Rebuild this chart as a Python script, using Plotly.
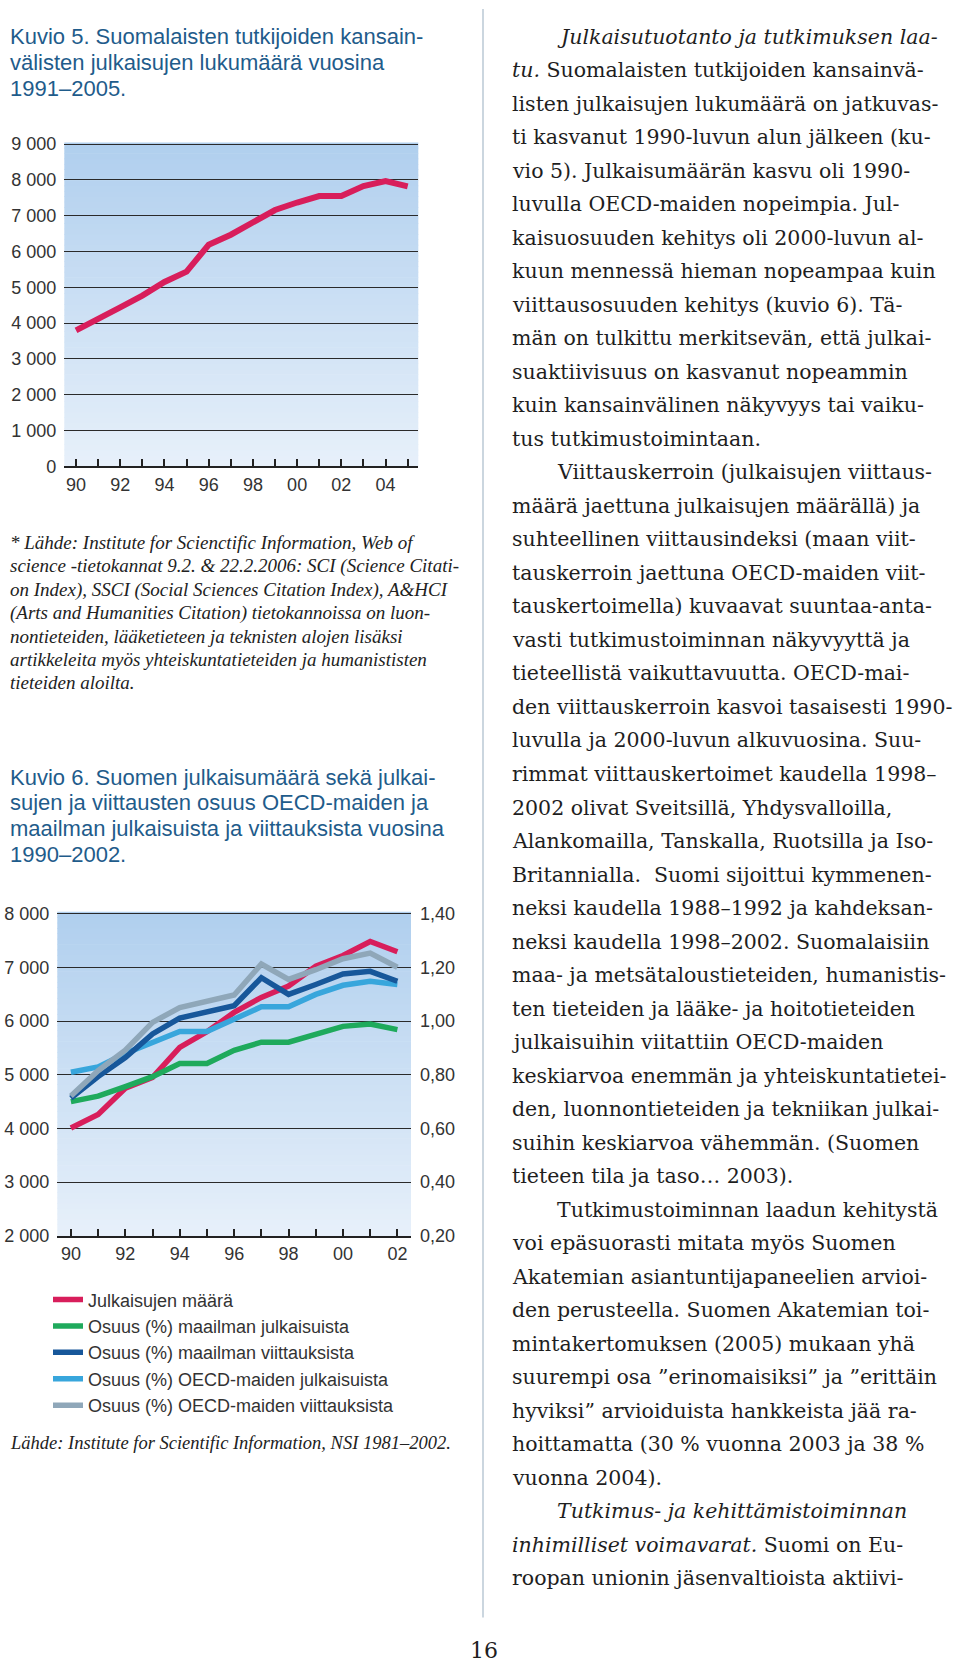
import plotly.graph_objects as go

W, H = 960, 1670

# ---------------- data ----------------
years1 = [1990, 1991, 1992, 1993, 1994, 1995, 1996, 1997, 1998, 1999, 2000, 2001, 2002, 2003, 2004, 2005]
pubs1 = [3800, 4100, 4440, 4770, 5150, 5440, 6190, 6470, 6830, 7160, 7370, 7550, 7550, 7830, 7970, 7820]
y1_ticks = [0, 1000, 2000, 3000, 4000, 5000, 6000, 7000, 8000, 9000]
y1_labels = ["0", "1 000", "2 000", "3 000", "4 000", "5 000", "6 000", "7 000", "8 000", "9 000"]
x1_labels = ["90", "", "92", "", "94", "", "96", "", "98", "", "00", "", "02", "", "04", ""]

years2 = [1990, 1991, 1992, 1993, 1994, 1995, 1996, 1997, 1998, 1999, 2000, 2001, 2002]
pubs2 = [4010, 4260, 4750, 4950, 5510, 5800, 6160, 6440, 6650, 7020, 7220, 7480, 7290]
world_pub = [0.70, 0.72, 0.756, 0.793, 0.842, 0.842, 0.891, 0.921, 0.921, 0.948, 0.980, 0.989, 0.968]
world_cit = [0.713, 0.793, 0.864, 0.952, 1.011, 1.032, 1.057, 1.161, 1.099, 1.136, 1.175, 1.185, 1.148]
oecd_pub = [0.809, 0.829, 0.879, 0.921, 0.961, 0.961, 1.007, 1.053, 1.053, 1.099, 1.133, 1.148, 1.136]
oecd_cit = [0.721, 0.815, 0.891, 0.995, 1.050, 1.072, 1.097, 1.212, 1.155, 1.191, 1.232, 1.253, 1.200]
y2_ticks = [2000, 3000, 4000, 5000, 6000, 7000, 8000]
y2_labels = ["2 000", "3 000", "4 000", "5 000", "6 000", "7 000", "8 000"]
y3_ticks = [0.2, 0.4, 0.6, 0.8, 1.0, 1.2, 1.4]
y3_labels = ["0,20", "0,40", "0,60", "0,80", "1,00", "1,20", "1,40"]
x2_labels = ["90", "", "92", "", "94", "", "96", "", "98", "", "00", "", "02"]

names2 = ["Julkaisujen määrä", "Osuus (%) maailman julkaisuista", "Osuus (%) maailman viittauksista",
          "Osuus (%) OECD-maiden julkaisuista", "Osuus (%) OECD-maiden viittauksista"]

title1 = ["Kuvio 5. Suomalaisten tutkijoiden kansain-", "välisten julkaisujen lukumäärä vuosina", "1991–2005."]
title2 = ["Kuvio 6. Suomen julkaisumäärä sekä julkai-", "sujen ja viittausten osuus OECD-maiden ja",
          "maailman julkaisuista ja viittauksista vuosina", "1990–2002."]
note1 = ["* Lähde: Institute for Scienctific Information, Web of",
         "science -tietokannat 9.2. &amp; 22.2.2006: SCI (Science Citati-",
         "on Index), SSCI (Social Sciences Citation Index), A&amp;HCI",
         "(Arts and Humanities Citation) tietokannoissa on luon-",
         "nontieteiden, lääketieteen ja teknisten alojen lisäksi",
         "artikkeleita myös yhteiskuntatieteiden ja humanististen",
         "tieteiden aloilta."]
source2 = "Lähde: Institute for Scientific Information, NSI 1981–2002."

body = [
    (1, "<i>Julkaisutuotanto ja tutkimuksen laa-</i>"),
    (0, "<i>tu.</i> Suomalaisten tutkijoiden kansainvä-"),
    (0, "listen julkaisujen lukumäärä on jatkuvas-"),
    (0, "ti kasvanut 1990-luvun alun jälkeen (ku-"),
    (0, "vio 5). Julkaisumäärän kasvu oli 1990-"),
    (0, "luvulla OECD-maiden nopeimpia. Jul-"),
    (0, "kaisuosuuden kehitys oli 2000-luvun al-"),
    (0, "kuun mennessä hieman nopeampaa kuin"),
    (0, "viittausosuuden kehitys (kuvio 6). Tä-"),
    (0, "män on tulkittu merkitsevän, että julkai-"),
    (0, "suaktiivisuus on kasvanut nopeammin"),
    (0, "kuin kansainvälinen näkyvyys tai vaiku-"),
    (0, "tus tutkimustoimintaan."),
    (1, "Viittauskerroin (julkaisujen viittaus-"),
    (0, "määrä jaettuna julkaisujen määrällä) ja"),
    (0, "suhteellinen viittausindeksi (maan viit-"),
    (0, "tauskerroin jaettuna OECD-maiden viit-"),
    (0, "tauskertoimella) kuvaavat suuntaa-anta-"),
    (0, "vasti tutkimustoiminnan näkyvyyttä ja"),
    (0, "tieteellistä vaikuttavuutta. OECD-mai-"),
    (0, "den viittauskerroin kasvoi tasaisesti 1990-"),
    (0, "luvulla ja 2000-luvun alkuvuosina. Suu-"),
    (0, "rimmat viittauskertoimet kaudella 1998–"),
    (0, "2002 olivat Sveitsillä, Yhdysvalloilla,"),
    (0, "Alankomailla, Tanskalla, Ruotsilla ja Iso-"),
    (0, "Britannialla.  Suomi sijoittui kymmenen-"),
    (0, "neksi kaudella 1988–1992 ja kahdeksan-"),
    (0, "neksi kaudella 1998–2002. Suomalaisiin"),
    (0, "maa- ja metsätaloustieteiden, humanistis-"),
    (0, "ten tieteiden ja lääke- ja hoitotieteiden"),
    (0, "julkaisuihin viitattiin OECD-maiden"),
    (0, "keskiarvoa enemmän ja yhteiskuntatietei-"),
    (0, "den, luonnontieteiden ja tekniikan julkai-"),
    (0, "suihin keskiarvoa vähemmän. (Suomen"),
    (0, "tieteen tila ja taso… 2003)."),
    (1, "Tutkimustoiminnan laadun kehitystä"),
    (0, "voi epäsuorasti mitata myös Suomen"),
    (0, "Akatemian asiantuntijapaneelien arvioi-"),
    (0, "den perusteella. Suomen Akatemian toi-"),
    (0, "mintakertomuksen (2005) mukaan yhä"),
    (0, "suurempi osa ”erinomaisiksi” ja ”erittäin"),
    (0, "hyviksi” arvioiduista hankkeista jää ra-"),
    (0, "hoittamatta (30 % vuonna 2003 ja 38 %"),
    (0, "vuonna 2004)."),
    (1, "<i>Tutkimus- ja kehittämistoiminnan</i>"),
    (0, "<i>inhimilliset voimavarat.</i> Suomi on Eu-"),
    (0, "roopan unionin jäsenvaltioista aktiivi-"),
]

# ---------------- styles ----------------
RED = "#d81e5b"
GREEN = "#1faa5c"
DBLUE = "#17579a"
LBLUE = "#38a6dc"
GRAY = "#8fa7b9"
TITLE_C = "#1f5c8b"
BG_TOP = (176, 207, 238)
BG_BOT = (231, 240, 250)
SANS = "Liberation Sans, Arial, sans-serif"
SERIF_B = "DejaVu Serif, serif"
SERIF_C = "Liberation Serif, Times New Roman, serif"


def px(x):
    return x / W


def py(y):
    return 1 - y / H


def gradient_bands(xref, yref, n=60):
    out = []
    for k in range(n):
        t = (k + 0.5) / n
        c = tuple(round(BG_BOT[j] + (BG_TOP[j] - BG_BOT[j]) * t) for j in range(3))
        out.append(dict(type="rect", xref=xref, yref=yref, x0=0, x1=1,
                        y0=k / n, y1=(k + 1) / n + 0.002,
                        fillcolor="rgb(%d,%d,%d)" % c, line=dict(width=0), layer="below"))
    return out


fig = go.Figure()

# chart 1 (range top padded slightly so the 9 000 gridline is fully visible)
x1_range = [1989.47, 2005.48]
y1_range = [0, 9030]
fig.add_trace(go.Scatter(x=years1, y=pubs1, mode="lines",
                         line=dict(color=RED, width=6), showlegend=False,
                         xaxis="x", yaxis="y"))

# chart 2
x2_range = [1989.5, 2002.5]
y2_range = [2000, 8020]
y3_range = [0.2, 1.404]
series = [
    (names2[1], world_pub, GREEN, "y3", 2),
    (names2[3], oecd_pub, LBLUE, "y3", 4),
    (names2[2], world_cit, DBLUE, "y3", 3),
    (names2[4], oecd_cit, GRAY, "y3", 5),
    (names2[0], pubs2, RED, "y2", 1),
]
for name, vals, col, yax, rank in series:
    fig.add_trace(go.Scatter(x=years2, y=vals, mode="lines", name=name,
                             line=dict(color=col, width=5.5),
                             xaxis="x2", yaxis=yax, legendrank=rank))

tickfont = dict(family=SANS, size=18, color="#333333")
common_x = dict(showgrid=False, zeroline=False, showline=True, linecolor="#222222", linewidth=2,
                ticks="inside", ticklen=7, tickwidth=1.5, tickcolor="#222222",
                tickfont=tickfont, ticklabelstandoff=1, fixedrange=True)
common_y = dict(showgrid=True, gridcolor="#2a2a2a", gridwidth=1.3, zeroline=False,
                showline=False, ticks="", tickfont=tickfont, ticklabelstandoff=7, fixedrange=True)

fig.update_layout(
    width=W, height=H,
    margin=dict(l=0, r=0, t=0, b=0),
    paper_bgcolor="white", plot_bgcolor="rgba(0,0,0,0)",
    xaxis=dict(domain=[px(64.3), px(418.3)], range=x1_range, anchor="y",
               tickvals=years1, ticktext=x1_labels, **common_x),
    yaxis=dict(domain=[py(462.7), py(135.6)], range=y1_range, anchor="x",
               tickvals=y1_ticks, ticktext=y1_labels, **common_y),
    xaxis2=dict(domain=[px(57.3), px(411)], range=x2_range, anchor="y2",
                tickvals=years2, ticktext=x2_labels, **common_x),
    yaxis2=dict(domain=[py(1241), py(913.9)], range=y2_range, anchor="x2",
                tickvals=y2_ticks, ticktext=y2_labels, **common_y),
    yaxis3=dict(overlaying="y2", side="right", range=y3_range, anchor="x2",
                tickvals=y3_ticks, ticktext=y3_labels, showgrid=False, zeroline=False,
                showline=False, ticks="", tickfont=tickfont, ticklabelstandoff=8, fixedrange=True),
    legend=dict(x=px(48), y=py(1287), xanchor="left", yanchor="top",
                font=dict(family=SANS, size=18, color="#333333"),
                bgcolor="rgba(0,0,0,0)", itemwidth=30, tracegroupgap=0),
    showlegend=True,
)

ann = []
for i, t in enumerate(title1):
    ann.append(dict(text=t, x=px(8), y=py(28 + 26 * i)))
for i, t in enumerate(title2):
    ann.append(dict(text=t, x=px(8), y=py(777 + 26 * i)))
for a in ann:
    a.update(xref="paper", yref="paper", xanchor="left", yanchor="middle", showarrow=False,
             font=dict(family=SANS, size=22, color=TITLE_C))

for i, t in enumerate(note1):
    ann.append(dict(text="<i>" + t + "</i>", x=px(8), y=py(540 + 23.6 * i), xref="paper", yref="paper",
                    xanchor="left", yanchor="middle", showarrow=False,
                    font=dict(family=SERIF_C, size=19, color="#222222")))
ann.append(dict(text="<i>" + source2 + "</i>", x=px(8), y=py(1450), xref="paper", yref="paper",
                xanchor="left", yanchor="middle", showarrow=False,
                font=dict(family=SERIF_C, size=18.5, color="#222222")))

for i, (indent, t) in enumerate(body):
    ann.append(dict(text=t, x=px(555 if indent else 510), y=py(28 + 33.9 * i), xref="paper", yref="paper",
                    xanchor="left", yanchor="middle", showarrow=False,
                    font=dict(family=SERIF_B, size=20.5, color="#1e1e1e")))

ann.append(dict(text="16", x=px(484), y=py(1660), xref="paper", yref="paper",
                xanchor="center", yanchor="middle", showarrow=False,
                font=dict(family=SERIF_B, size=22, color="#1e1e1e")))

shapes = gradient_bands("x domain", "y domain") + gradient_bands("x2 domain", "y2 domain")
shapes.append(dict(type="line", xref="paper", yref="paper",
                   x0=px(483), x1=px(483), y0=py(1627), y1=py(0),
                   line=dict(color="#cbd6df", width=2)))

fig.update_layout(annotations=ann, shapes=shapes)

fig.write_html("out.html", config={"displayModeBar": False},
               post_script="document.body.style.margin='0px';")
